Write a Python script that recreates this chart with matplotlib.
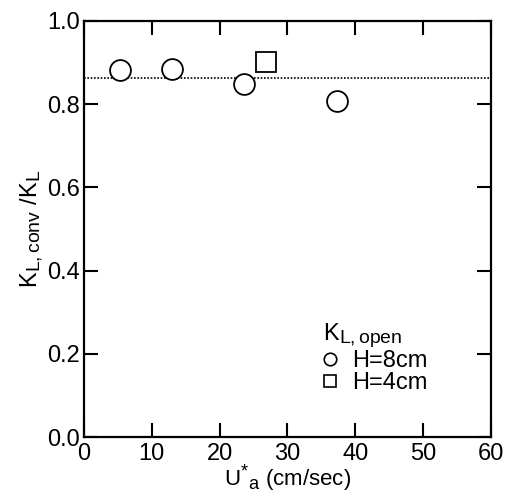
#!/usr/bin/env python3

import matplotlib
matplotlib.use('Agg')
from matplotlib import pyplot as plt
from matplotlib.lines import Line2D
import matplotlib._mathtext as mt

mt.SHRINK_FACTOR = 0.82                   # subscripts nearly full size, as in the scan

plt.rcParams['font.family'] = ['Liberation Sans', 'DejaVu Sans']
plt.rcParams['mathtext.fontset'] = 'custom'
plt.rcParams['mathtext.rm'] = 'Liberation Sans'
plt.rcParams['mathtext.it'] = 'Liberation Sans'
plt.rcParams['mathtext.default'] = 'regular'

# Data
u_8cm = [5.3, 13.0, 23.6, 37.3]          # U*a, H=8cm
ratio_8cm = [0.881, 0.885, 0.847, 0.807]
u_4cm = [26.8]                            # U*a, H=4cm
ratio_4cm = [0.900]
mean_ratio = 0.863                        # dotted reference line

fig = plt.figure(figsize=(5.06, 4.95), dpi=100)
ax = fig.add_axes([0.166, 0.117, 0.804, 0.841])

ax.plot([0, 60], [mean_ratio, mean_ratio], color='black', linestyle=(0, (1, 1)), linewidth=1.2)
ax.plot(u_8cm, ratio_8cm, 'o', markersize=15, markerfacecolor='white',
        markeredgecolor='black', markeredgewidth=1.3, linestyle='none')
ax.plot(u_4cm, ratio_4cm, 's', markersize=14, markerfacecolor='white',
        markeredgecolor='black', markeredgewidth=1.3, linestyle='none')

ax.set_xlim(0, 60)
ax.set_ylim(0, 1.0)
ax.set_xticks(range(0, 61, 10))
ax.set_yticks([0.0, 0.2, 0.4, 0.6, 0.8, 1.0])
ax.set_yticklabels(['0.0', '0.2', '0.4', '0.6', '0.8', '1.0'])
ax.tick_params(direction='in', length=10, width=1.5, labelsize=17,
               top=True, right=True)
ax.tick_params(axis='x', pad=4)
ax.tick_params(axis='y', pad=3)
for s in ax.spines.values():
    s.set_linewidth(1.6)

ax.set_xlabel(r'U$^{*}$$_a$ (cm/sec)', fontsize=16, labelpad=-1)
ax.set_ylabel(r'K$_{L,conv}$ /K$_L$', fontsize=17, labelpad=1)

handles = [
    Line2D([], [], marker='o', linestyle='none', markersize=9, markerfacecolor='white',
           markeredgecolor='black', markeredgewidth=1.2, label='H=8cm'),
    Line2D([], [], marker='s', linestyle='none', markersize=8, markerfacecolor='white',
           markeredgecolor='black', markeredgewidth=1.2, label='H=4cm'),
]
leg = ax.legend(handles=handles, title=r'K$_{L,open}$', loc='upper left',
                bbox_to_anchor=(0.565, 0.30), frameon=False, fontsize=17,
                title_fontsize=17, handlelength=0.6, handletextpad=0.6,
                labelspacing=0.0, borderaxespad=0)
leg._legend_box.align = 'left'

plt.savefig('out.png', dpi=100)
